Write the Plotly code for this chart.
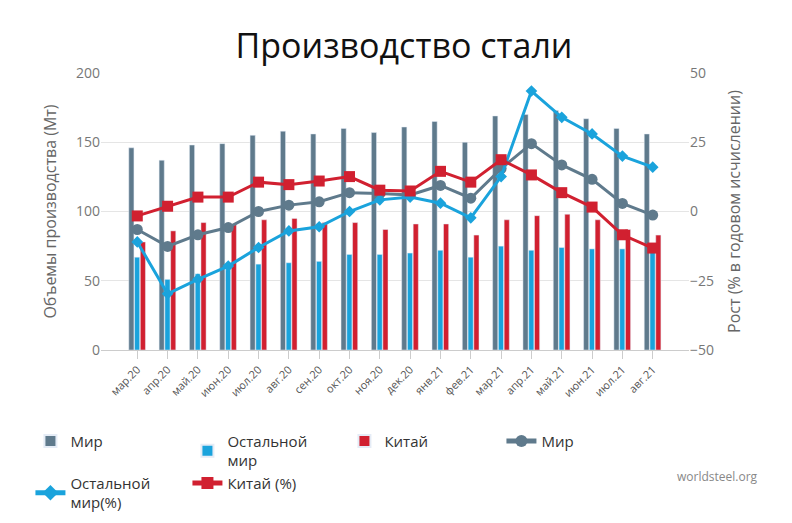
import plotly.graph_objects as go

months = ["мар.20", "апр.20", "май.20", "июн.20", "июл.20", "авг.20", "сен.20", "окт.20", "ноя.20",
          "дек.20", "янв.21", "фев.21", "мар.21", "апр.21", "май.21", "июн.21", "июл.21", "авг.21"]

world = [146, 137, 148, 149, 155, 158, 156, 160, 157, 161, 165, 150, 169, 170, 173, 167, 160, 156]
rest = [67, 51, 55, 58, 62, 63, 64, 69, 69, 70, 72, 67, 75, 72, 74, 73, 73, 72]
china = [78, 86, 92, 91, 94, 95, 92, 92, 87, 91, 91, 83, 94, 97, 98, 94, 87, 83]

world_pct = [-6.5, -12.6, -8.4, -5.8, 0, 2.3, 3.5, 6.8, 6.5, 6.0, 9.4, 4.8, 15.5, 24.5, 16.8, 11.6, 2.9, -1.3]
rest_pct = [-11, -29.7, -24.5, -19.7, -13, -7, -5.5, 0, 4.2, 5.2, 3, -2.3, 12.6, 43.5, 34, 28, 20, 16]
china_pct = [-1.6, 1.9, 5.2, 5.2, 10.6, 9.7, 11, 12.6, 7.7, 7.4, 14.5, 10.6, 18.7, 13.2, 6.8, 1.6, -8.4, -13.2]

grey = "#5f7a8c"
blue = "#1aa3dc"
red = "#d12030"

fig = go.Figure()
fig.add_trace(go.Bar(x=months, y=world, name="Мир", marker_color=grey, width=0.17, offset=-0.28))
fig.add_trace(go.Bar(x=months, y=rest, name="Остальной<br>мир", marker_color=blue, width=0.17, offset=-0.09))
fig.add_trace(go.Bar(x=months, y=china, name="Китай", marker_color=red, width=0.17, offset=0.1))

fig.add_trace(go.Scatter(x=months, y=world_pct, name="Мир", yaxis="y2", mode="lines+markers",
                         line=dict(color=grey, width=3), marker=dict(symbol="circle", size=11)))
fig.add_trace(go.Scatter(x=months, y=rest_pct, name="Остальной<br>мир(%)", yaxis="y2", mode="lines+markers",
                         line=dict(color=blue, width=3), marker=dict(symbol="diamond", size=9)))
fig.add_trace(go.Scatter(x=months, y=china_pct, name="Китай (%)", yaxis="y2", mode="lines+markers",
                         line=dict(color=red, width=3), marker=dict(symbol="square", size=11)))

fig.update_layout(
    width=792, height=523,
    paper_bgcolor="white", plot_bgcolor="white",
    font=dict(family="Open Sans", color="#555"),
    title=dict(text="Производство стали", x=0.5, y=0.95, xanchor="center",
               font=dict(size=34, color="#111", family="Open Sans")),
    margin=dict(l=93, r=111, t=65, b=148),
    xaxis=dict(tickangle=-45, tickfont=dict(size=11), showline=True, linecolor="#ccc",
               ticks="outside", ticklen=8, tickcolor="#ccc"),
    yaxis=dict(title=dict(text="Объемы производства (Мт)", font=dict(size=16, color="#666")),
               range=[0, 200], dtick=50, gridcolor="#e5e5e5", tickfont=dict(size=14, color="#777"),
               zeroline=False),
    yaxis2=dict(title=dict(text="Рост (% в годовом исчислении)", font=dict(size=16, color="#666")),
                overlaying="y", side="right", range=[-50, 50], dtick=25, showgrid=False,
                tickfont=dict(size=14, color="#777"), zeroline=False),
    legend=dict(orientation="h", x=-0.12, xanchor="left", y=-0.27, yanchor="top",
                entrywidth=112, font=dict(size=15, color="#333"), itemsizing="constant",
                traceorder="normal"),
    annotations=[dict(text="worldsteel.org", x=1.12, y=-0.42, xref="paper", yref="paper",
                      xanchor="right", yanchor="top", showarrow=False,
                      font=dict(size=12, color="#888"))],
)

fig.write_html("out.html")
